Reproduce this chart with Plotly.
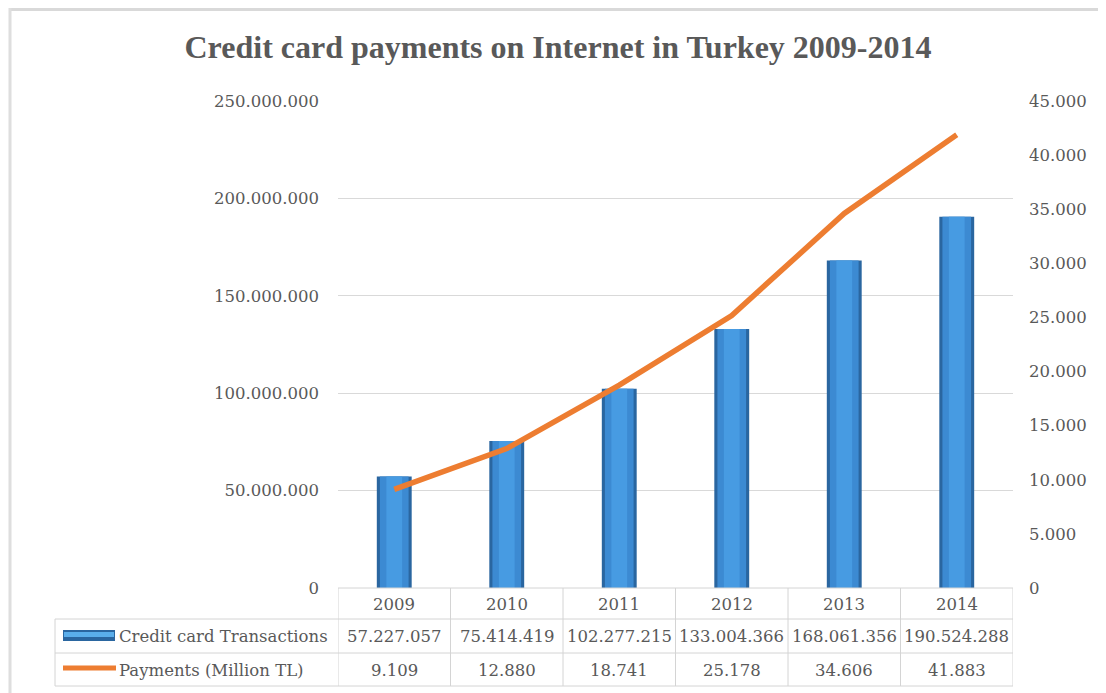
import plotly.graph_objects as go

# ---- data ----
years = ["2009", "2010", "2011", "2012", "2013", "2014"]
transactions = [57227057, 75414419, 102277215, 133004366, 168061356, 190524288]
payments = [9109, 12880, 18741, 25178, 34606, 41883]
transactions_labels = ["57.227.057", "75.414.419", "102.277.215", "133.004.366", "168.061.356", "190.524.288"]
payments_labels = ["9.109", "12.880", "18.741", "25.178", "34.606", "41.883"]
series_names = ["Credit card Transactions", "Payments (Million TL)"]
title_text = "Credit card payments on Internet in Turkey 2009-2014"

# ---- layout geometry (page pixels; page body has an 8px margin) ----
OFF = 8
W, H = 1106 - OFF, 693 - OFF
L, R, T, B = 338, 1013, 101, 588   # plot area in page pixels
TXT = "#595959"
GRID = "#D9D9D9"
FONT = "DejaVu Serif"


def px_x(x):
    return (x - L) / (R - L)


def px_y(y):
    return (B - y) / (B - T)


fig = go.Figure()

# bars (layered for a bevelled look)
fig.add_trace(go.Bar(x=years, y=transactions, width=0.31, marker=dict(color="#2A66A0", line=dict(width=0)),
                     name=series_names[0], hoverinfo="y"))
fig.add_trace(go.Bar(x=years, y=transactions, width=0.255, marker=dict(color="#3C8AD2", line=dict(width=0)),
                     showlegend=False, hoverinfo="skip"))
fig.add_trace(go.Bar(x=years, y=transactions, width=0.14, marker=dict(color="#479BE2", line=dict(width=0)),
                     showlegend=False, hoverinfo="skip"))

# line on secondary axis
fig.add_trace(go.Scatter(x=years, y=payments, mode="lines", yaxis="y2", name=series_names[1],
                         line=dict(color="#ED7D31", width=5.5)))

shapes = []
line_style = dict(color="#D4D4D4", width=1)
# table horizontal lines
for y, x0 in [(619, 55), (653, 55), (686, 55)]:
    shapes.append(dict(type="line", xref="paper", yref="paper", x0=px_x(x0), x1=px_x(R),
                       y0=px_y(y), y1=px_y(y), line=line_style))
shapes.append(dict(type="line", xref="paper", yref="paper", x0=0, x1=1, y0=0, y1=0, line=line_style))
# table vertical lines at category boundaries
for k in range(len(years) + 1):
    shapes.append(dict(type="line", xref="x", yref="paper", x0=k - 0.5, x1=k - 0.5,
                       y0=px_y(588), y1=px_y(686), line=line_style))
shapes.append(dict(type="line", xref="paper", yref="paper", x0=px_x(55), x1=px_x(55),
                   y0=px_y(619), y1=px_y(686), line=line_style))

# legend keys inside the table
shapes.append(dict(type="rect", xref="paper", yref="paper", x0=px_x(63), x1=px_x(115),
                   y0=px_y(641), y1=px_y(630), fillcolor="#2A66A0", line=dict(width=0)))
shapes.append(dict(type="rect", xref="paper", yref="paper", x0=px_x(64), x1=px_x(114),
                   y0=px_y(637), y1=px_y(632), fillcolor="#5AAEEB", line=dict(width=0)))
shapes.append(dict(type="line", xref="paper", yref="paper", x0=px_x(63), x1=px_x(116),
                   y0=px_y(668), y1=px_y(668), line=dict(color="#ED7D31", width=5)))

# outer frame (top and left)
shapes.append(dict(type="line", xref="paper", yref="paper", x0=px_x(9), x1=px_x(1106),
                   y0=px_y(9.5), y1=px_y(9.5), line=dict(color="#D9D9D9", width=3)))
shapes.append(dict(type="line", xref="paper", yref="paper", x0=px_x(10), x1=px_x(10),
                   y0=px_y(8), y1=px_y(693), line=dict(color="#DEDEDE", width=3)))

annotations = []
tfont = dict(family=FONT, size=16.5, color=TXT)
for i, yr in enumerate(years):
    annotations.append(dict(x=i, y=px_y(604), xref="x", yref="paper", text=yr, showarrow=False,
                            font=tfont, xanchor="center", yanchor="middle"))
    annotations.append(dict(x=i, y=px_y(636), xref="x", yref="paper", text=transactions_labels[i],
                            showarrow=False, font=tfont, xanchor="center", yanchor="middle"))
    annotations.append(dict(x=i, y=px_y(670), xref="x", yref="paper", text=payments_labels[i],
                            showarrow=False, font=tfont, xanchor="center", yanchor="middle"))
annotations.append(dict(x=px_x(117), y=px_y(636), xref="paper", yref="paper", text=series_names[0],
                        showarrow=False, font=tfont, xanchor="left", yanchor="middle"))
annotations.append(dict(x=px_x(117), y=px_y(670), xref="paper", yref="paper", text=series_names[1],
                        showarrow=False, font=tfont, xanchor="left", yanchor="middle"))

fig.update_layout(
    width=W, height=H,
    margin=dict(l=L - OFF, r=W - (R - OFF), t=T - OFF, b=H - (B - OFF), autoexpand=False),
    paper_bgcolor="white", plot_bgcolor="white",
    separators=",.",
    barmode="overlay",
    showlegend=False,
    title=dict(text=title_text, xref="container", yref="container", x=(558 - OFF) / W,
               y=1 - (47 - OFF) / H, xanchor="center", yanchor="middle",
               font=dict(family="Liberation Serif", size=32, color=TXT, weight="bold")),
    xaxis=dict(type="category", showticklabels=False, showgrid=False, ticks="", showline=False,
               zeroline=False, range=[-0.5, len(years) - 0.5]),
    yaxis=dict(range=[0, 250000000], dtick=50000000, tickformat=",d", showgrid=True, gridcolor=GRID,
               gridwidth=1, zeroline=False, showline=False, ticks="", ticklabelstandoff=18,
               tickfont=dict(family=FONT, size=16.5, color=TXT)),
    yaxis2=dict(range=[0, 45000], dtick=5000, tickformat=",d", overlaying="y", side="right",
                showgrid=False, zeroline=False, showline=False, ticks="", ticklabelstandoff=15,
                tickfont=dict(family=FONT, size=16.5, color=TXT)),
    shapes=shapes,
    annotations=annotations,
)

fig.write_html("out.html")
